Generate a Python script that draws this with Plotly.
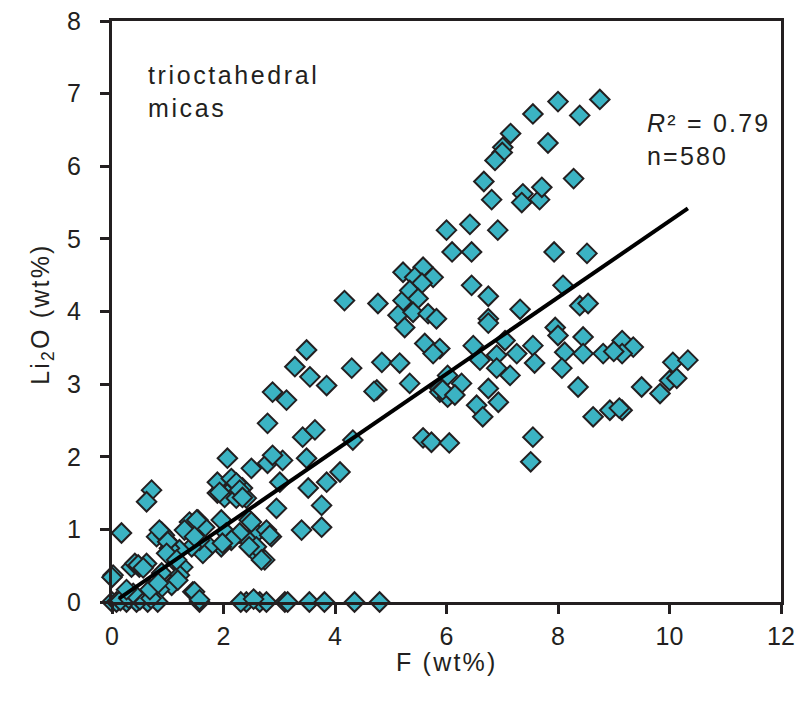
import plotly.graph_objects as go

# ---- data ----
F_wt = [
    8.75, 8.39, 8.0, 7.55, 7.82, 7.15, 7.01, 7.0, 6.87, 6.67, 6.81, 7.37, 7.35, 7.67, 7.71, 8.28,
    6.42, 6.92, 6.0, 6.1, 6.45, 7.93, 8.52, 6.45, 6.75, 8.09, 7.32, 8.39, 8.54, 6.75,
    4.17, 4.77, 5.22, 5.58, 5.43, 5.76, 5.56, 5.22, 5.34, 5.49, 5.13, 5.40, 5.67, 5.82,
    5.25, 5.61, 5.88, 5.76, 3.49, 3.28, 3.55, 3.85, 4.3, 4.84, 5.16, 4.75, 4.70, 5.34, 5.88,
    5.58, 5.73, 6.05,
    2.88, 3.13, 2.79, 3.42, 3.64, 4.32, 2.07, 2.5, 2.79, 3.06, 3.49, 3.01, 3.52, 3.85, 4.09,
    3.76, 3.76, 3.4, 2.95, 2.16, 1.98, 1.89, 2.14, 2.34, 2.02, 2.23, 2.41, 0.71, 0.62, 0.17,
    1.54, 1.39, 1.66, 1.3, 1.96, 2.05, 2.46, 2.59, 2.77, 2.86, 2.44, 2.29, 2.14, 1.96, 1.75,
    1.63, 1.57, 1.43, 1.21, 0.98, 0.89, 0.8, 1.03, 1.17, 1.27, 2.56, 2.74, 2.59, 0.49, 0.35,
    0.62, 0.41, 0.02, 0.89, 1.21, 1.07, 0.85, 1.45, 0.62,
    0.0, 0.08, 0.26, 0.44, 0.64, 0.82, 1.57, 2.41, 2.65, 2.77, 3.1, 3.15, 3.54, 3.81, 4.35, 4.8,
    0.15, 0.5, 0.7, 0.3,
    6.02, 5.88, 6.02,
    6.75, 7.95, 8.0, 8.45, 6.48, 7.05, 7.55, 8.12, 8.45, 8.81, 9.15, 9.35, 9.15, 9.0, 6.6, 6.9,
    7.26, 7.58, 8.07, 6.9, 7.14, 6.27, 5.93, 6.15, 6.75, 6.93, 6.54, 6.65, 8.36, 9.5, 9.83,
    10.0, 10.13, 10.06, 10.33, 8.63, 8.93, 9.15, 9.1, 7.55, 7.51,
    2.88, 1.89, 2.14, 2.23, 2.29, 1.93, 2.34, 2.5, 2.83, 2.46, 2.68, 1.98, 1.52, 1.48, 0.94,
    0.85, 1.0, 0.98, 1.16, 1.18, 0.47, 0.56, 0.0, 0.68, 0.83, 0.38, 0.26, 1.48, 1.57, 2.31, 2.54,
]
Li2O_wt = [
    6.92, 6.70, 6.89, 6.72, 6.32, 6.45, 6.26, 6.19, 6.08, 5.79, 5.54, 5.62, 5.50, 5.54, 5.71, 5.83,
    5.2, 5.12, 5.12, 4.82, 4.82, 4.82, 4.8, 4.36, 4.21, 4.36, 4.03, 4.08, 4.11, 3.9,
    4.15, 4.11, 4.54, 4.61, 4.47, 4.47, 4.39, 4.15, 4.29, 4.18, 3.95, 3.99, 3.97, 3.9,
    3.78, 3.56, 3.49, 3.42, 3.47, 3.24, 3.1, 2.98, 3.22, 3.3, 3.29, 2.92, 2.90, 3.01, 2.94,
    2.26, 2.2, 2.19,
    2.89, 2.78, 2.46, 2.27, 2.37, 2.23, 1.98, 1.84, 1.91, 1.95, 1.98, 1.65, 1.57, 1.65, 1.79,
    1.33, 1.03, 0.99, 1.29, 1.68, 1.58, 1.5, 1.54, 1.57, 1.44, 1.43, 1.43, 1.54, 1.38, 0.95,
    1.13, 1.1, 1.03, 0.99, 1.13, 0.95, 1.13, 0.95, 0.99, 0.9, 0.85, 0.95, 0.85, 0.76, 0.76,
    0.67, 0.85, 0.76, 0.72, 0.85, 0.96, 0.9, 0.74, 0.53, 0.48, 0.69, 0.58, 0.76, 0.48, 0.48,
    0.53, 0.53, 0.37, 0.4, 0.37, 0.23, 0.17, 0.14, 0.12,
    0.0, 0.0, 0.0, 0.0, 0.0, 0.0, 0.0, 0.0, 0.0, 0.0, 0.0, 0.0, 0.0, 0.0, 0.0, 0.0,
    0.02, 0.03, 0.05, 0.05,
    3.12, 2.89, 2.82,
    3.84, 3.78, 3.67, 3.65, 3.53, 3.6, 3.53, 3.44, 3.42, 3.42, 3.6, 3.51, 3.42, 3.45, 3.33, 3.4,
    3.42, 3.29, 3.22, 3.22, 3.12, 3.01, 2.92, 2.85, 2.94, 2.75, 2.71, 2.55, 2.96, 2.96, 2.87,
    3.05, 3.08, 3.3, 3.33, 2.55, 2.64, 2.64, 2.67, 2.27, 1.93,
    2.02, 1.65, 1.7, 1.64, 1.54, 1.51, 1.44, 1.1, 0.92, 0.76, 0.58, 0.81, 1.13, 0.9, 0.92,
    0.99, 0.83, 0.67, 0.58, 0.3, 0.51, 0.47, 0.34, 0.17, 0.26, 0.12, 0.17, 0.14, 0.03, 0.0, 0.04,
]

trend_F = [0.13, 10.33]
trend_Li = [0.05, 5.42]

x_ticks = [0, 2, 4, 6, 8, 10, 12]
y_ticks = [0, 1, 2, 3, 4, 5, 6, 7, 8]

INK = "#231f20"
FONT = "Arial, Liberation Sans, sans-serif"
SP = "letter-spacing:2.6px"
SP2 = "letter-spacing:2.2px"

fig = go.Figure()
fig.add_trace(go.Scatter(
    x=F_wt, y=Li2O_wt, mode="markers", cliponaxis=False,
    marker=dict(symbol="diamond", size=15, color="#3bb3c3",
                line=dict(color=INK, width=2)),
    showlegend=False, hoverinfo="skip",
))
fig.add_trace(go.Scatter(
    x=trend_F, y=trend_Li, mode="lines",
    line=dict(color="black", width=4), showlegend=False, hoverinfo="skip",
))

fig.add_annotation(x=0.61, y=7.48, xref="x", yref="y", xanchor="left", yanchor="top",
                   text=f"<span style='{SP}'>trioctahedral</span><br><span style='{SP}'>micas</span>",
                   showarrow=False, align="left",
                   font=dict(family=FONT, size=25, color=INK))
fig.add_annotation(x=9.56, y=6.82, xref="x", yref="y", xanchor="left", yanchor="top",
                   text=f"<span style='{SP2}'><i>R</i>² = 0.79</span><br><span style='{SP2}'>n=580</span>",
                   showarrow=False, align="left",
                   font=dict(family=FONT, size=25, color=INK))

# axis titles as annotations (fixed positions)
fig.add_annotation(x=0.5, y=-0.103, xref="paper", yref="paper", xanchor="center", yanchor="middle",
                   text=f"<span style='{SP2}'>F (wt%)</span>", showarrow=False,
                   font=dict(family=FONT, size=25, color=INK))
fig.add_annotation(x=-0.104, y=0.495, xref="paper", yref="paper", xanchor="center", yanchor="middle",
                   text=f"<span style='{SP2}'>Li<sub>2</sub>O (wt%)</span>", showarrow=False, textangle=-90,
                   font=dict(family=FONT, size=25, color=INK))

axis_common = dict(showgrid=False, zeroline=False, showline=True, linecolor=INK,
                   linewidth=3, mirror=True, ticks="outside", ticklen=9,
                   tickwidth=3, tickcolor=INK, automargin=False,
                   tickfont=dict(family=FONT, size=25, color=INK))

fig.update_xaxes(range=[0, 12], tickvals=x_ticks, ticktext=[str(v) for v in x_ticks],
                 ticklabelstandoff=1, **axis_common)
fig.update_yaxes(range=[0, 8], tickvals=y_ticks, ticktext=[str(v) for v in y_ticks],
                 ticklabelstandoff=14, **axis_common)

fig.update_layout(
    width=799, height=709,
    margin=dict(l=112, r=18, t=21, b=107),
    paper_bgcolor="white", plot_bgcolor="white",
    font=dict(family=FONT, color=INK),
)

# remove the default 8px page margin so the figure sits at the window origin
fig.write_html("out.html",
               config={"displayModeBar": False},
               post_script="document.body.style.margin='0';document.body.style.overflow='hidden';")
